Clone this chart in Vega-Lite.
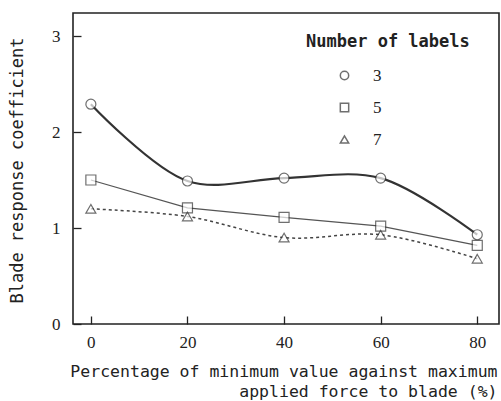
{
  "$schema": "https://vega.github.io/schema/vega-lite/v6.json",
  "width": 426,
  "height": 311,
  "autosize": {"type": "none"},
  "padding": {"left": 73, "top": 13, "right": 2, "bottom": 77},
  "background": "#ffffff",
  "config": {
    "view": {"stroke": "#222222", "strokeWidth": 1.6},
    "axis": {
      "domain": false,
      "grid": false,
      "tickColor": "#222222",
      "tickWidth": 1.3,
      "labelFont": "Liberation Serif",
      "labelFontSize": 17,
      "labelColor": "#222222",
      "titleFont": "DejaVu Sans Mono",
      "titleFontSize": 17,
      "titleFontWeight": "normal",
      "titleColor": "#222222"
    }
  },
  "data": {
    "values": [
      {"x": 0, "y": 2.29, "labels": "3"},
      {"x": 20, "y": 1.49, "labels": "3"},
      {"x": 40, "y": 1.52, "labels": "3"},
      {"x": 60, "y": 1.52, "labels": "3"},
      {"x": 80, "y": 0.93, "labels": "3"},
      {"x": 0, "y": 1.50, "labels": "5"},
      {"x": 20, "y": 1.21, "labels": "5"},
      {"x": 40, "y": 1.11, "labels": "5"},
      {"x": 60, "y": 1.02, "labels": "5"},
      {"x": 80, "y": 0.82, "labels": "5"},
      {"x": 0, "y": 1.20, "labels": "7"},
      {"x": 20, "y": 1.12, "labels": "7"},
      {"x": 40, "y": 0.90, "labels": "7"},
      {"x": 60, "y": 0.93, "labels": "7"},
      {"x": 80, "y": 0.68, "labels": "7"}
    ]
  },
  "encoding": {
    "x": {
      "field": "x", "type": "quantitative",
      "scale": {"domain": [-3.7, 84.5], "nice": false, "zero": false},
      "axis": {
        "values": [0, 20, 40, 60, 80],
        "tickSize": -8,
        "labelPadding": 18,
        "title": ["Percentage of minimum value against maximum", "applied force to blade  (%)"],
        "titleFontSize": 16.5,
        "titleAnchor": null,
        "titleAlign": "right",
        "titleBaseline": "top",
        "titleX": 424,
        "titleY": 39,
        "titleLineHeight": 20
      }
    },
    "y": {
      "field": "y", "type": "quantitative",
      "scale": {"domain": [0, 3.24], "nice": false},
      "axis": {
        "values": [0, 1, 2, 3],
        "tickSize": -8,
        "labelPadding": 21,
        "title": "Blade response coefficient",
        "titleAngle": -90,
        "titleAnchor": null,
        "titleAlign": "center",
        "titleBaseline": "middle",
        "titleX": -56,
        "titleY": 157
      }
    }
  },
  "layer": [
    {
      "transform": [{"filter": "datum.labels === '3'"}],
      "mark": {"type": "line", "interpolate": "catmull-rom", "stroke": "#333333", "strokeWidth": 2.2}
    },
    {
      "transform": [{"filter": "datum.labels === '5'"}],
      "mark": {"type": "line", "interpolate": "linear", "stroke": "#555555", "strokeWidth": 1.2}
    },
    {
      "transform": [{"filter": "datum.labels === '7'"}],
      "mark": {"type": "line", "interpolate": "catmull-rom", "stroke": "#444444", "strokeWidth": 1.5, "strokeDash": [3, 3]}
    },
    {
      "mark": {"type": "point", "filled": true, "fill": "#ffffff", "stroke": "#333333", "strokeWidth": 1.2, "size": 100},
      "encoding": {
        "shape": {
          "field": "labels", "type": "nominal",
          "scale": {"domain": ["3", "5", "7"], "range": ["circle", "square", "triangle-up"]},
          "legend": {
            "title": "Number of labels",
            "orient": "none",
            "legendX": 233,
            "legendY": 21,
            "titleFont": "DejaVu Sans Mono",
            "titleFontSize": 17,
            "titleFontWeight": "bold",
            "titleColor": "#222222",
            "titlePadding": 16,
            "labelFont": "Liberation Serif",
            "labelFontSize": 17,
            "labelColor": "#222222",
            "labelOffset": 20,
            "symbolOffset": 30,
            "symbolSize": 70,
            "rowPadding": 14,
            "encode": {
              "symbols": {
                "update": {
                  "fill": {"value": "#ffffff"},
                  "stroke": {"value": "#333333"},
                  "strokeWidth": {"value": 1.2},
                  "opacity": {"value": 1}
                }
              }
            }
          }
        }
      }
    }
  ]
}
